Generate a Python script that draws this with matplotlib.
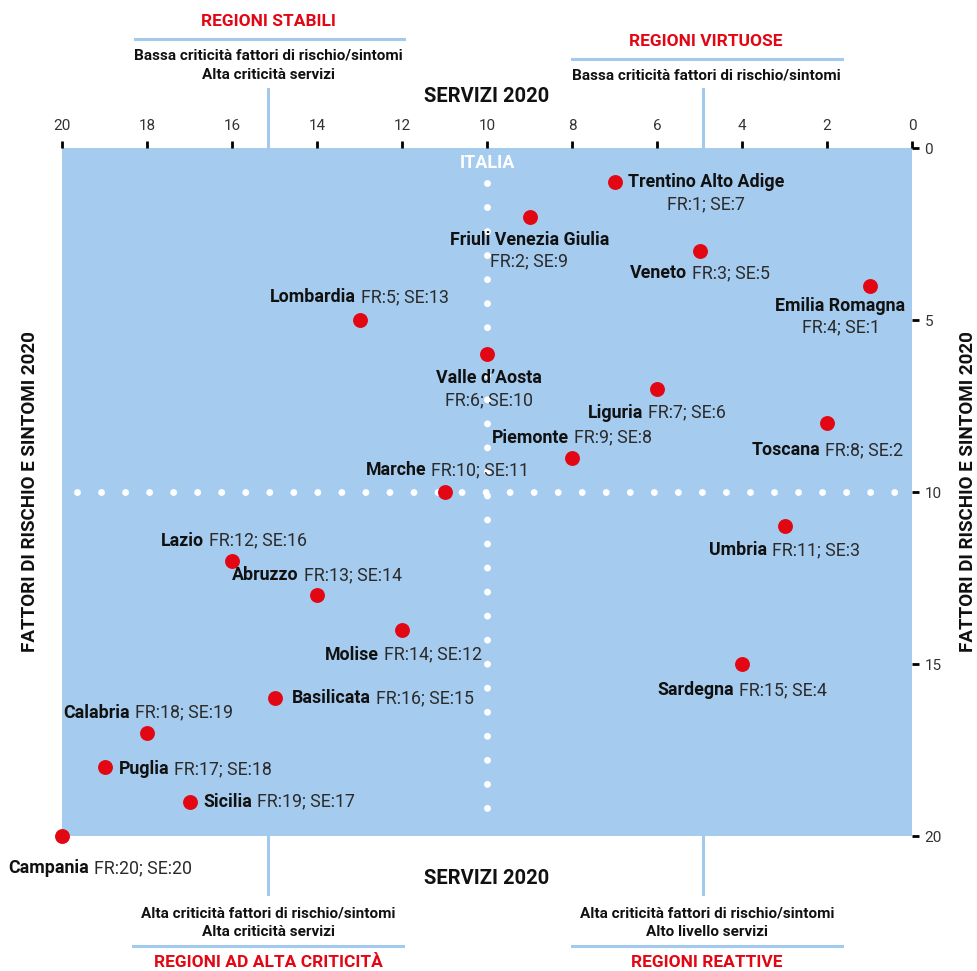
import numpy as np
import matplotlib.pyplot as plt
from matplotlib.lines import Line2D

plt.rcParams['font.family'] = ['Roboto', 'DejaVu Sans']

# data (ranks)
regions = ['Trentino Alto Adige', 'Friuli Venezia Giulia', 'Veneto', 'Emilia Romagna',
           'Lombardia', "Valle d\u2019Aosta", 'Liguria', 'Toscana', 'Piemonte', 'Marche',
           'Umbria', 'Lazio', 'Abruzzo', 'Molise', 'Sardegna', 'Basilicata',
           'Calabria', 'Puglia', 'Sicilia', 'Campania']
# position of each point (servizi on x, fattori di rischio on y)
se_pos = [7, 9, 5, 1, 13, 10, 6, 2, 8, 11, 3, 16, 14, 12, 4, 15, 18, 19, 17, 20]
fr_pos = [1, 2, 3, 4, 5, 6, 7, 8, 9, 10, 11, 12, 13, 14, 15, 16, 17, 18, 19, 20]
# ranks as written in the labels
fr_lab = [1, 2, 3, 4, 5, 6, 7, 8, 9, 10, 11, 12, 13, 14, 15, 16, 18, 17, 19, 20]
se_lab = [7, 9, 5, 1, 13, 10, 6, 2, 8, 11, 3, 16, 14, 12, 4, 15, 19, 18, 17, 20]

x_ticks = [0, 2, 4, 6, 8, 10, 12, 14, 16, 18, 20]
y_ticks = [0, 5, 10, 15, 20]
italia = 10

# label placement: mode, dx, dy (pixels, dy down)
place = [('right2', 13, 0), ('below2', 0, 23), ('line', 0, 22), ('below2', -29, 20),
         ('line', 0, -23), ('below2', 2, 24), ('line', 0, 24), ('line', 0, 27),
         ('line', 0, -20), ('line', 3, -22), ('line', 0, 24), ('line', 2, -20),
         ('line', 0, -20), ('line', 1, 25), ('line', 0, 26), ('left', 17, 0),
         ('line', 1, -20), ('left', 14, 2), ('left', 14, 0), ('left', -54, 32)]

BG = '#a5cbee'
LINE = '#a3c9ec'
RED = '#e30613'
LBL = 12.8

W, H = 978, 971
fx = lambda px: px / W
fy = lambda py: 1 - py / H

fig = plt.figure(figsize=(W / 100, H / 100), dpi=100)
ax = fig.add_axes([fx(62), fy(836), (912 - 62) / W, (836 - 148) / H])
ax.set_facecolor(BG)
for s in ax.spines.values():
    s.set_visible(False)
ax.set_xlim(20, 0)
ax.set_ylim(20, 0)
ax.xaxis.tick_top()
ax.yaxis.tick_right()
ax.set_xticks(x_ticks)
ax.set_yticks(y_ticks)
ax.tick_params(length=5, width=2, color='black', labelsize=11, labelcolor='#333333')
ax.tick_params(axis='x', pad=6)
ax.tick_params(axis='y', pad=4)

# dotted quadrant lines (drawn from the top / left so the dots start there)
dots = dict(color='white', lw=5, linestyle=(0, (0.001, 3.46)), dash_capstyle='round', zorder=1)
ax.plot([italia, italia], [1.02, 19.7], **dots)
ax.plot([19.65, 0.3], [italia, italia], **dots)
ax.text(italia, 0.45, 'ITALIA', color='white', fontsize=13, fontweight='bold', ha='center', va='center')

ax.scatter(se_pos, fr_pos, s=115, color=RED, zorder=3, linewidths=0, clip_on=False)

renderer = fig.canvas.get_renderer()


def width(s, weight):
    t = fig.text(0, 0, s, fontsize=LBL, fontweight=weight)
    w = t.get_window_extent(renderer).width
    t.remove()
    return w


def put(s, x, y, dx, dy, weight, ha):
    ax.annotate(s, (x, y), xytext=(dx, -dy), textcoords='offset pixels', fontsize=LBL,
                fontweight=weight, ha=ha, va='center', zorder=4,
                color='#111111' if weight == 'bold' else '#2b2b2b', annotation_clip=False)


for name, x, y, fr, se, (mode, dx, dy) in zip(regions, se_pos, fr_pos, fr_lab, se_lab, place):
    info = 'FR:%d; SE:%d' % (fr, se)
    wb = width(name, 'bold')
    gap = 5
    if mode == 'line':
        wn = width(info, 'normal')
        left = dx - (wb + gap + wn) / 2
        put(name, x, y, left, dy, 'bold', 'left')
        put(info, x, y, left + wb + gap, dy, 'normal', 'left')
    elif mode == 'left':
        put(name, x, y, dx, dy, 'bold', 'left')
        put(info, x, y, dx + wb + gap, dy, 'normal', 'left')
    elif mode == 'below2':
        put(name, x, y, dx, dy, 'bold', 'center')
        put(info, x, y, dx, dy + 22, 'normal', 'center')
    elif mode == 'right2':
        put(name, x, y, dx, dy, 'bold', 'left')
        put(info, x, y, dx + wb / 2, dy + 22, 'normal', 'center')

# guide lines outside the plot
for xx in [268, 703]:
    fig.add_artist(Line2D([fx(xx), fx(xx)], [fy(89), fy(148)], color=LINE, lw=2.2))
    fig.add_artist(Line2D([fx(xx), fx(xx)], [fy(836), fy(894)], color=LINE, lw=2.2))

for x0, x1, yy in [(135, 404, 39), (572, 842, 59), (133, 403, 946), (572, 842, 946)]:
    fig.add_artist(Line2D([fx(x0), fx(x1)], [fy(yy), fy(yy)], color=LINE, lw=2.2))

head = dict(color=RED, fontsize=12.5, fontweight='bold', ha='center', va='center')
note = dict(color='#111111', fontsize=11, fontweight='bold', ha='center', va='center')
axis_t = dict(color='#111111', fontsize=14.5, fontweight='bold', ha='center', va='center')

fig.text(fx(268), fy(22), 'REGIONI STABILI', **head)
fig.text(fx(268), fy(56), 'Bassa criticità fattori di rischio/sintomi', **note)
fig.text(fx(268), fy(75), 'Alta criticità servizi', **note)
fig.text(fx(706), fy(42), 'REGIONI VIRTUOSE', **head)
fig.text(fx(706), fy(75), 'Bassa criticità fattori di rischio/sintomi', **note)
fig.text(fx(487), fy(96), 'SERVIZI 2020', **axis_t)

fig.text(fx(487), fy(878), 'SERVIZI 2020', **axis_t)
fig.text(fx(268), fy(913), 'Alta criticità fattori di rischio/sintomi', **note)
fig.text(fx(268), fy(932), 'Alta criticità servizi', **note)
fig.text(fx(268), fy(962), 'REGIONI AD ALTA CRITICITÀ', **head)
fig.text(fx(707), fy(913), 'Alta criticità fattori di rischio/sintomi', **note)
fig.text(fx(707), fy(932), 'Alto livello servizi', **note)
fig.text(fx(707), fy(962), 'REGIONI REATTIVE', **head)

ylab = dict(color='#111111', fontsize=13.5, fontweight='bold', ha='center', va='center', rotation=90)
fig.text(fx(30), fy(492), 'FATTORI DI RISCHIO E SINTOMI 2020', **ylab)
fig.text(fx(968), fy(492), 'FATTORI DI RISCHIO E SINTOMI 2020', **ylab)

fig.savefig('out.png', dpi=100)
